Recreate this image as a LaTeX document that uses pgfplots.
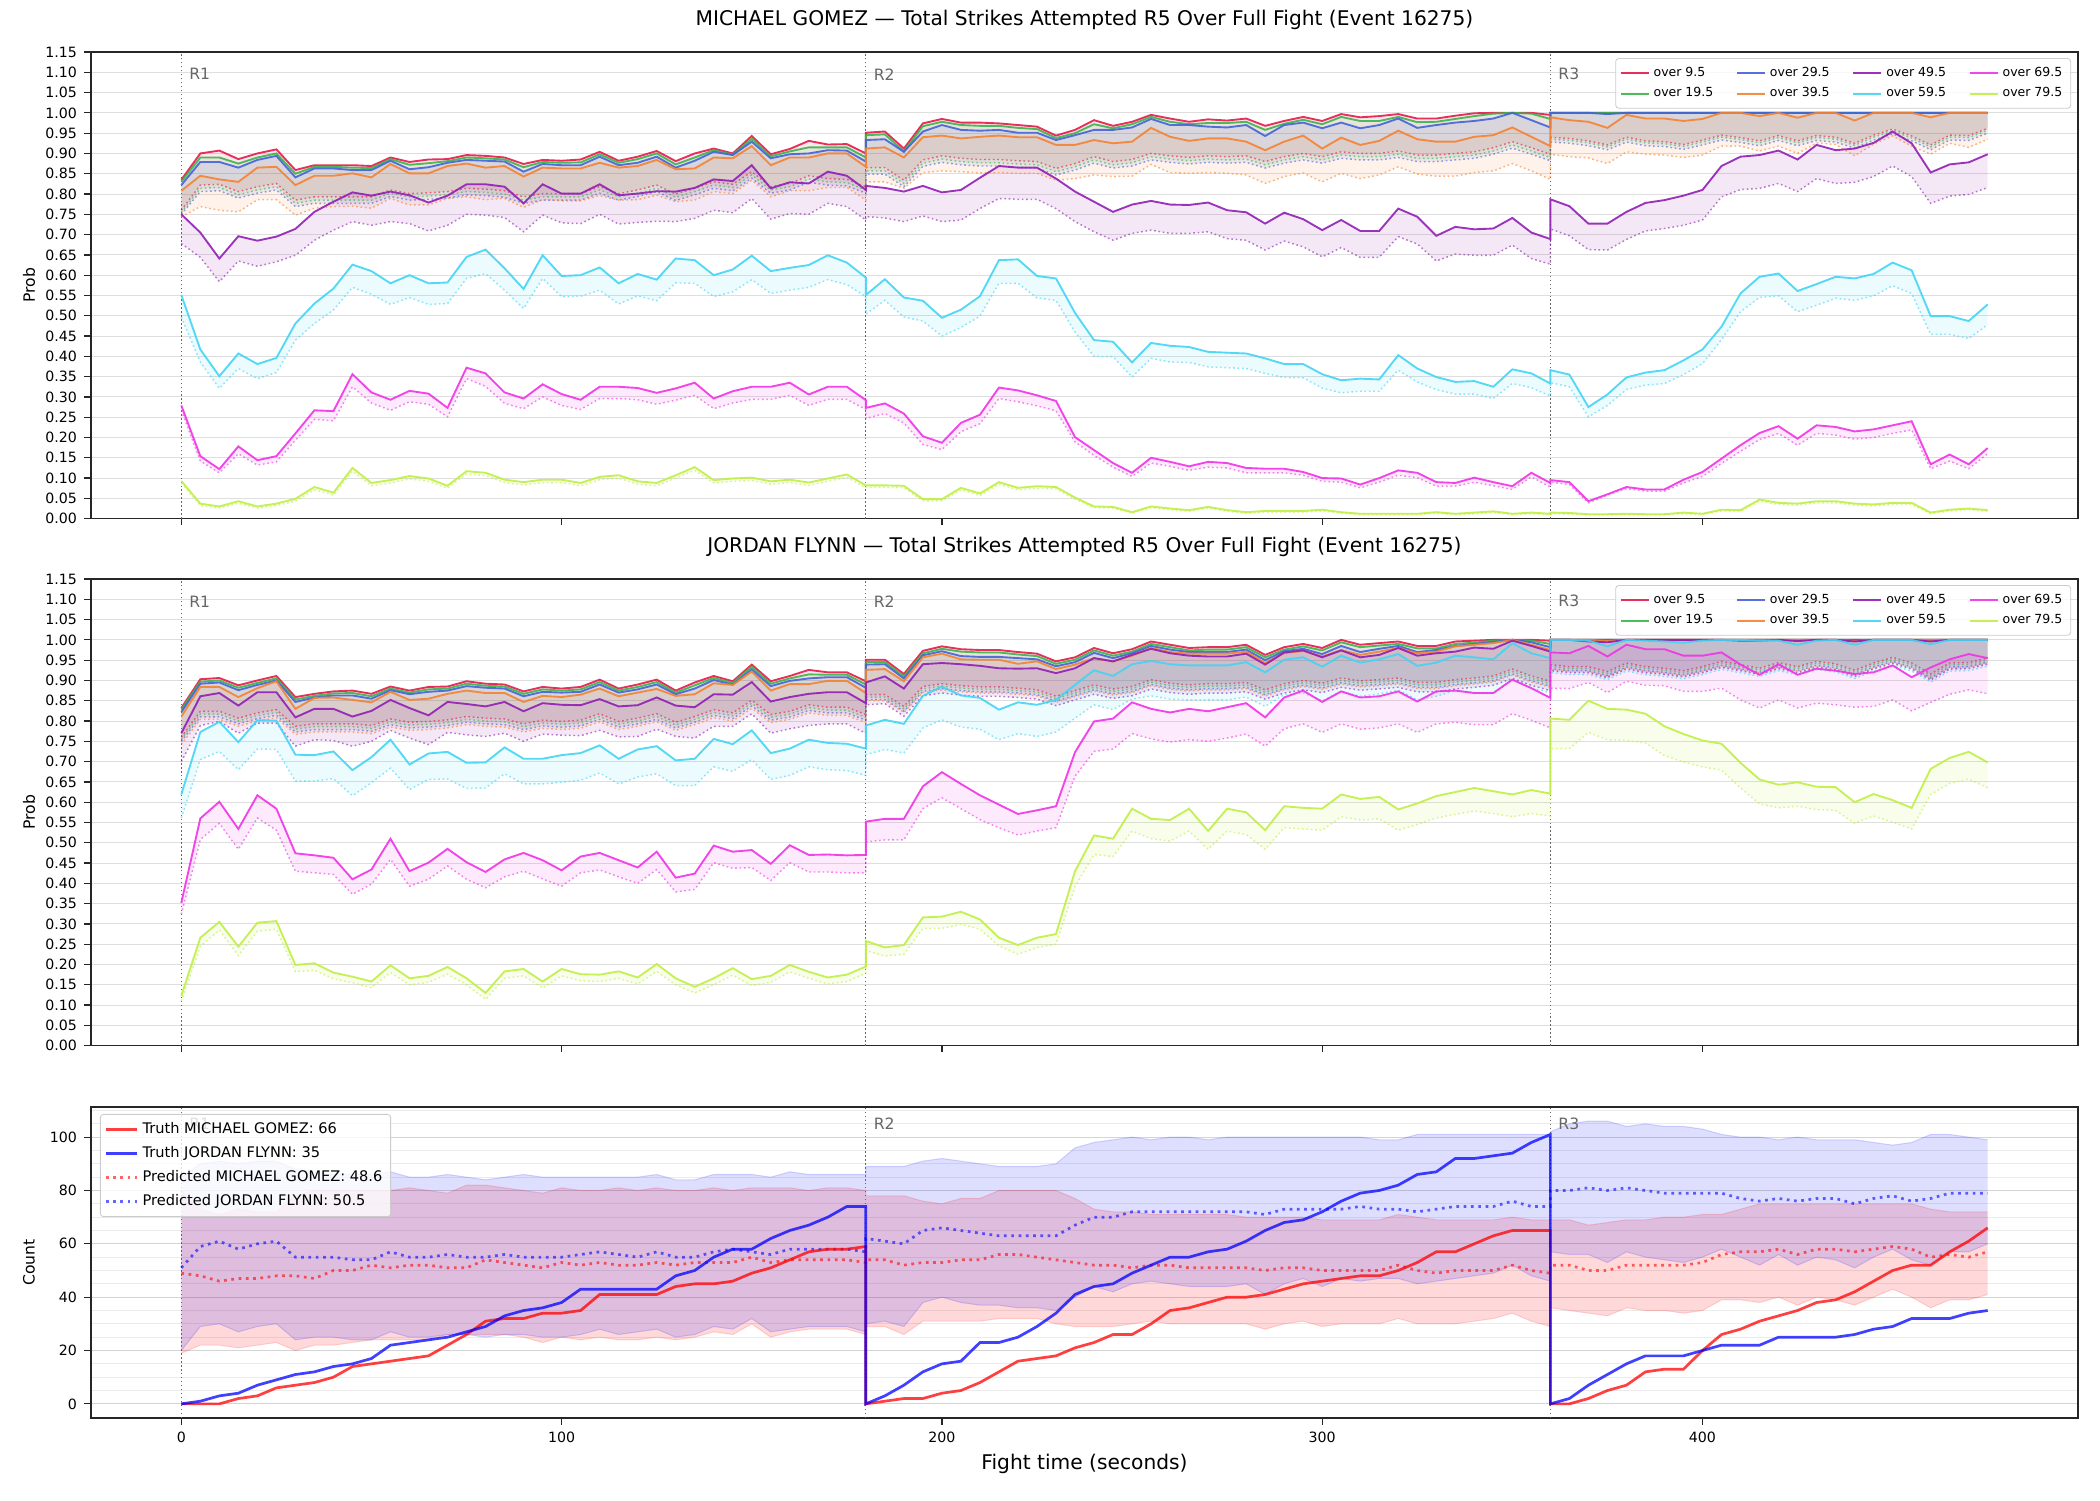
\documentclass[border=0pt]{standalone}
\usepackage{pgfplots}
\usepackage{pgfplotstable}
\usepackage{fontspec}
\setmainfont{DejaVu Sans}
\pgfplotsset{compat=1.18}
\usepgfplotslibrary{fillbetween}

\definecolor{c1}{HTML}{E6194B}
\definecolor{c2}{HTML}{3CB44B}
\definecolor{c3}{HTML}{4363D8}
\definecolor{c4}{HTML}{F58231}
\definecolor{c5}{HTML}{911EB4}
\definecolor{c6}{HTML}{42D4F4}
\definecolor{c7}{HTML}{F032E6}
\definecolor{c8}{HTML}{BFEF45}

% Michael Gomez: P(over line), r = estimate, l = lower band
\pgfplotstableread{
t r1 r2 r3 r4 r5 r6 r7 r8 l1 l2 l3 l4 l5 l6 l7 l8
0 0.835 0.830 0.822 0.808 0.750 0.551 0.279 0.093 0.760 0.755 0.750 0.744 0.678 0.497 0.267 0.088
5 0.900 0.890 0.879 0.845 0.705 0.417 0.154 0.037 0.822 0.814 0.806 0.769 0.644 0.386 0.142 0.032
10 0.907 0.890 0.879 0.836 0.641 0.351 0.122 0.030 0.824 0.816 0.808 0.760 0.584 0.321 0.113 0.026
15 0.886 0.875 0.865 0.830 0.696 0.407 0.178 0.043 0.806 0.798 0.790 0.756 0.635 0.370 0.160 0.038
20 0.900 0.890 0.884 0.865 0.685 0.381 0.144 0.030 0.818 0.810 0.802 0.786 0.622 0.345 0.132 0.026
25 0.910 0.900 0.894 0.867 0.695 0.396 0.154 0.037 0.826 0.818 0.810 0.786 0.633 0.360 0.140 0.032
30 0.859 0.850 0.841 0.822 0.714 0.481 0.210 0.049 0.785 0.777 0.769 0.748 0.649 0.440 0.193 0.043
35 0.871 0.867 0.863 0.845 0.756 0.530 0.267 0.078 0.793 0.785 0.777 0.765 0.686 0.481 0.245 0.071
40 0.871 0.867 0.863 0.845 0.781 0.567 0.265 0.064 0.793 0.785 0.777 0.769 0.711 0.514 0.241 0.058
45 0.871 0.865 0.859 0.851 0.804 0.626 0.356 0.125 0.793 0.785 0.777 0.770 0.732 0.570 0.325 0.117
50 0.869 0.864 0.859 0.841 0.796 0.610 0.311 0.088 0.793 0.785 0.777 0.765 0.723 0.553 0.285 0.081
55 0.890 0.886 0.882 0.874 0.806 0.580 0.293 0.095 0.810 0.802 0.794 0.789 0.732 0.528 0.267 0.088
60 0.879 0.872 0.861 0.851 0.797 0.600 0.315 0.105 0.801 0.793 0.785 0.773 0.727 0.545 0.288 0.098
65 0.885 0.876 0.866 0.851 0.779 0.580 0.308 0.099 0.803 0.795 0.787 0.773 0.709 0.528 0.282 0.092
70 0.886 0.881 0.877 0.869 0.796 0.582 0.273 0.081 0.806 0.798 0.790 0.789 0.723 0.530 0.251 0.075
75 0.896 0.890 0.884 0.875 0.824 0.645 0.372 0.117 0.814 0.806 0.798 0.793 0.750 0.592 0.345 0.110
80 0.894 0.888 0.882 0.865 0.824 0.663 0.358 0.113 0.812 0.804 0.796 0.786 0.748 0.604 0.326 0.106
85 0.890 0.885 0.880 0.869 0.818 0.617 0.311 0.096 0.808 0.800 0.792 0.789 0.742 0.563 0.284 0.089
90 0.874 0.866 0.855 0.843 0.777 0.566 0.296 0.090 0.793 0.785 0.777 0.767 0.707 0.518 0.271 0.083
95 0.884 0.879 0.874 0.865 0.824 0.649 0.331 0.096 0.801 0.793 0.785 0.786 0.748 0.592 0.300 0.089
100 0.882 0.877 0.871 0.863 0.801 0.598 0.307 0.096 0.801 0.793 0.785 0.783 0.729 0.547 0.279 0.089
105 0.885 0.878 0.871 0.863 0.801 0.600 0.293 0.088 0.801 0.793 0.785 0.783 0.727 0.548 0.269 0.081
110 0.904 0.898 0.892 0.877 0.824 0.619 0.325 0.103 0.818 0.810 0.802 0.796 0.750 0.563 0.296 0.096
115 0.882 0.877 0.871 0.865 0.797 0.580 0.325 0.107 0.801 0.793 0.785 0.785 0.726 0.529 0.296 0.100
120 0.892 0.886 0.877 0.869 0.801 0.603 0.322 0.092 0.810 0.802 0.794 0.786 0.730 0.549 0.293 0.085
125 0.906 0.900 0.892 0.884 0.807 0.589 0.310 0.088 0.822 0.814 0.806 0.797 0.733 0.537 0.282 0.081
130 0.881 0.873 0.865 0.861 0.806 0.641 0.321 0.107 0.800 0.792 0.784 0.781 0.732 0.581 0.292 0.100
135 0.900 0.890 0.882 0.863 0.815 0.637 0.335 0.127 0.814 0.806 0.798 0.785 0.740 0.580 0.304 0.119
140 0.912 0.908 0.904 0.890 0.836 0.600 0.296 0.095 0.830 0.822 0.814 0.806 0.760 0.547 0.271 0.088
145 0.900 0.897 0.896 0.888 0.832 0.614 0.314 0.099 0.824 0.816 0.808 0.801 0.754 0.559 0.285 0.092
150 0.943 0.936 0.929 0.918 0.871 0.648 0.325 0.101 0.855 0.847 0.839 0.834 0.789 0.589 0.294 0.094
155 0.898 0.893 0.888 0.871 0.814 0.610 0.325 0.092 0.818 0.810 0.802 0.793 0.738 0.555 0.294 0.085
160 0.911 0.905 0.898 0.890 0.829 0.618 0.335 0.096 0.826 0.818 0.810 0.808 0.752 0.563 0.304 0.089
165 0.931 0.915 0.900 0.890 0.826 0.625 0.306 0.089 0.845 0.837 0.829 0.808 0.750 0.570 0.279 0.082
170 0.922 0.915 0.908 0.900 0.855 0.649 0.325 0.099 0.838 0.830 0.822 0.816 0.777 0.589 0.294 0.092
175 0.923 0.915 0.907 0.900 0.845 0.631 0.325 0.109 0.836 0.828 0.820 0.816 0.769 0.577 0.294 0.102
180 0.900 0.890 0.880 0.867 0.810 0.594 0.292 0.082 0.818 0.810 0.802 0.785 0.736 0.547 0.269 0.076
180 0.951 0.945 0.933 0.912 0.820 0.551 0.273 0.082 0.865 0.857 0.849 0.830 0.744 0.504 0.247 0.077
185 0.954 0.947 0.935 0.915 0.815 0.590 0.284 0.082 0.865 0.857 0.849 0.830 0.741 0.538 0.259 0.077
190 0.912 0.905 0.904 0.890 0.806 0.545 0.259 0.081 0.834 0.826 0.818 0.814 0.732 0.497 0.236 0.076
195 0.974 0.967 0.954 0.940 0.820 0.537 0.203 0.048 0.884 0.876 0.868 0.853 0.746 0.487 0.183 0.044
200 0.985 0.978 0.970 0.944 0.804 0.495 0.187 0.048 0.894 0.886 0.878 0.857 0.732 0.450 0.170 0.044
205 0.976 0.970 0.958 0.937 0.810 0.515 0.236 0.076 0.888 0.880 0.872 0.855 0.736 0.471 0.214 0.071
210 0.976 0.968 0.956 0.941 0.840 0.548 0.256 0.062 0.885 0.877 0.869 0.852 0.764 0.499 0.234 0.057
215 0.974 0.968 0.958 0.944 0.869 0.637 0.323 0.090 0.885 0.877 0.869 0.853 0.789 0.580 0.296 0.085
220 0.970 0.963 0.951 0.940 0.865 0.639 0.316 0.076 0.882 0.874 0.866 0.851 0.787 0.580 0.288 0.071
225 0.966 0.960 0.951 0.940 0.865 0.598 0.304 0.080 0.880 0.872 0.864 0.851 0.787 0.544 0.278 0.075
230 0.944 0.938 0.933 0.921 0.838 0.592 0.290 0.078 0.863 0.855 0.847 0.834 0.764 0.538 0.266 0.073
235 0.958 0.950 0.945 0.921 0.806 0.507 0.201 0.052 0.875 0.867 0.859 0.838 0.732 0.460 0.189 0.048
240 0.982 0.972 0.958 0.933 0.781 0.440 0.169 0.030 0.892 0.884 0.876 0.847 0.707 0.400 0.156 0.027
245 0.968 0.962 0.958 0.925 0.756 0.436 0.137 0.029 0.880 0.872 0.864 0.843 0.686 0.399 0.127 0.026
250 0.978 0.972 0.964 0.929 0.774 0.385 0.113 0.016 0.885 0.877 0.869 0.844 0.703 0.349 0.104 0.013
255 0.995 0.990 0.985 0.963 0.783 0.433 0.150 0.030 0.900 0.892 0.884 0.873 0.711 0.395 0.137 0.027
260 0.986 0.978 0.970 0.941 0.774 0.426 0.140 0.025 0.894 0.886 0.878 0.853 0.703 0.386 0.129 0.022
265 0.978 0.972 0.970 0.931 0.773 0.423 0.129 0.021 0.890 0.882 0.874 0.851 0.703 0.385 0.119 0.018
270 0.984 0.975 0.966 0.937 0.779 0.411 0.140 0.029 0.894 0.886 0.878 0.853 0.707 0.374 0.127 0.026
275 0.981 0.975 0.964 0.937 0.760 0.409 0.137 0.021 0.892 0.884 0.876 0.851 0.690 0.372 0.125 0.018
280 0.986 0.978 0.970 0.929 0.755 0.407 0.125 0.016 0.894 0.886 0.878 0.847 0.686 0.370 0.113 0.013
285 0.968 0.958 0.943 0.908 0.727 0.395 0.123 0.019 0.880 0.872 0.864 0.826 0.662 0.358 0.113 0.016
290 0.980 0.973 0.970 0.929 0.754 0.381 0.123 0.019 0.892 0.884 0.876 0.843 0.684 0.348 0.113 0.016
295 0.990 0.983 0.976 0.944 0.738 0.381 0.115 0.019 0.900 0.892 0.884 0.852 0.670 0.347 0.107 0.016
300 0.980 0.972 0.962 0.912 0.711 0.356 0.100 0.022 0.892 0.884 0.876 0.830 0.645 0.322 0.092 0.019
305 0.997 0.990 0.976 0.939 0.736 0.341 0.099 0.016 0.904 0.896 0.888 0.851 0.668 0.310 0.090 0.013
310 0.989 0.980 0.962 0.921 0.709 0.345 0.084 0.012 0.900 0.892 0.884 0.838 0.644 0.314 0.076 0.010
315 0.992 0.980 0.970 0.931 0.709 0.343 0.100 0.012 0.900 0.892 0.884 0.847 0.644 0.314 0.090 0.010
320 0.997 0.990 0.986 0.956 0.764 0.403 0.119 0.012 0.906 0.898 0.890 0.867 0.695 0.366 0.107 0.010
325 0.986 0.977 0.963 0.935 0.744 0.370 0.113 0.012 0.896 0.888 0.880 0.849 0.677 0.337 0.101 0.010
330 0.986 0.978 0.970 0.929 0.697 0.349 0.090 0.016 0.896 0.888 0.880 0.844 0.635 0.318 0.080 0.013
335 0.993 0.985 0.976 0.929 0.719 0.337 0.088 0.012 0.900 0.892 0.884 0.844 0.652 0.307 0.080 0.010
340 0.999 0.992 0.980 0.941 0.713 0.339 0.101 0.015 0.904 0.896 0.888 0.853 0.649 0.307 0.090 0.012
345 1.000 0.998 0.986 0.945 0.715 0.325 0.090 0.018 0.914 0.906 0.898 0.857 0.649 0.296 0.081 0.015
350 1.000 1.000 1.000 0.964 0.741 0.368 0.080 0.012 0.929 0.921 0.913 0.875 0.674 0.333 0.072 0.010
355 1.000 0.998 0.982 0.941 0.705 0.358 0.113 0.015 0.914 0.906 0.898 0.857 0.641 0.323 0.103 0.012
360 0.995 0.985 0.964 0.918 0.689 0.333 0.088 0.012 0.898 0.890 0.882 0.836 0.627 0.302 0.078 0.010
360 1.000 1.000 1.000 0.989 0.787 0.366 0.095 0.015 0.940 0.935 0.928 0.898 0.714 0.335 0.090 0.012
365 1.000 1.000 1.000 0.982 0.770 0.355 0.090 0.014 0.937 0.932 0.925 0.892 0.697 0.325 0.084 0.011
370 1.000 1.000 1.000 0.978 0.727 0.275 0.043 0.011 0.931 0.926 0.919 0.889 0.663 0.251 0.039 0.009
375 1.000 1.000 0.997 0.963 0.727 0.306 0.060 0.011 0.921 0.916 0.909 0.875 0.662 0.279 0.058 0.009
380 1.000 1.000 1.000 0.995 0.756 0.348 0.078 0.012 0.940 0.935 0.928 0.904 0.688 0.318 0.074 0.010
385 1.000 1.000 1.000 0.986 0.778 0.360 0.072 0.011 0.931 0.926 0.919 0.898 0.709 0.329 0.068 0.009
390 1.000 1.000 1.000 0.986 0.785 0.366 0.072 0.011 0.929 0.924 0.917 0.896 0.715 0.333 0.068 0.009
395 1.000 1.000 1.000 0.980 0.796 0.390 0.096 0.015 0.922 0.917 0.910 0.890 0.723 0.355 0.088 0.012
400 1.000 1.000 1.000 0.985 0.810 0.417 0.115 0.012 0.933 0.928 0.921 0.896 0.736 0.382 0.104 0.010
405 1.000 1.000 1.000 1.000 0.869 0.473 0.148 0.022 0.945 0.940 0.933 0.918 0.793 0.441 0.136 0.019
410 1.000 1.000 1.000 1.000 0.892 0.555 0.181 0.021 0.939 0.934 0.927 0.918 0.811 0.510 0.166 0.018
415 1.000 1.000 1.000 0.992 0.896 0.596 0.211 0.047 0.931 0.926 0.919 0.906 0.814 0.545 0.195 0.043
420 1.000 1.000 1.000 1.000 0.907 0.604 0.228 0.039 0.944 0.939 0.932 0.918 0.826 0.549 0.210 0.035
425 1.000 1.000 1.000 0.988 0.885 0.561 0.197 0.037 0.931 0.926 0.919 0.900 0.806 0.510 0.181 0.033
430 1.000 1.000 1.000 1.000 0.921 0.578 0.230 0.043 0.944 0.939 0.932 0.926 0.838 0.526 0.210 0.039
435 1.000 1.000 1.000 1.000 0.908 0.596 0.226 0.043 0.940 0.935 0.928 0.922 0.826 0.543 0.206 0.039
440 1.000 1.000 1.000 0.981 0.912 0.592 0.215 0.037 0.925 0.920 0.913 0.894 0.829 0.538 0.196 0.033
445 1.000 1.000 1.000 1.000 0.926 0.603 0.220 0.035 0.945 0.940 0.933 0.923 0.843 0.549 0.200 0.031
450 1.000 1.000 1.000 1.000 0.954 0.631 0.230 0.039 0.960 0.955 0.948 0.943 0.869 0.574 0.210 0.035
455 1.000 1.000 1.000 1.000 0.925 0.612 0.240 0.039 0.943 0.938 0.931 0.918 0.843 0.555 0.219 0.035
460 1.000 1.000 1.000 0.989 0.853 0.499 0.134 0.015 0.921 0.916 0.909 0.898 0.777 0.454 0.123 0.012
465 1.000 1.000 1.000 1.000 0.873 0.499 0.158 0.022 0.945 0.940 0.933 0.925 0.795 0.454 0.142 0.019
470 1.000 1.000 1.000 1.000 0.878 0.487 0.134 0.025 0.944 0.939 0.932 0.915 0.799 0.444 0.123 0.022
475 1.000 1.000 1.000 1.000 0.898 0.528 0.174 0.021 0.962 0.957 0.950 0.935 0.816 0.478 0.160 0.018
}\gomez

% Jordan Flynn: same layout
\pgfplotstableread{
t r1 r2 r3 r4 r5 r6 r7 r8 l1 l2 l3 l4 l5 l6 l7 l8
0 0.832 0.828 0.822 0.811 0.770 0.619 0.352 0.123 0.760 0.755 0.750 0.742 0.700 0.561 0.324 0.110
5 0.903 0.897 0.892 0.884 0.861 0.773 0.560 0.266 0.824 0.817 0.810 0.804 0.789 0.705 0.508 0.245
10 0.906 0.900 0.895 0.884 0.869 0.798 0.601 0.305 0.824 0.817 0.810 0.804 0.799 0.725 0.548 0.285
15 0.888 0.882 0.876 0.859 0.838 0.748 0.534 0.244 0.807 0.800 0.793 0.787 0.770 0.680 0.484 0.222
20 0.900 0.894 0.889 0.881 0.871 0.802 0.617 0.303 0.820 0.813 0.806 0.800 0.795 0.731 0.561 0.282
25 0.911 0.905 0.900 0.898 0.871 0.801 0.584 0.307 0.828 0.821 0.814 0.808 0.795 0.730 0.531 0.287
30 0.859 0.853 0.847 0.830 0.809 0.717 0.474 0.199 0.787 0.780 0.773 0.767 0.738 0.652 0.430 0.182
35 0.867 0.862 0.858 0.857 0.830 0.716 0.469 0.203 0.793 0.786 0.779 0.773 0.754 0.652 0.426 0.186
40 0.873 0.868 0.863 0.858 0.830 0.725 0.463 0.180 0.793 0.786 0.779 0.773 0.752 0.658 0.422 0.165
45 0.875 0.869 0.863 0.852 0.811 0.679 0.410 0.170 0.793 0.786 0.779 0.773 0.738 0.616 0.373 0.155
50 0.867 0.861 0.855 0.846 0.825 0.711 0.434 0.158 0.789 0.782 0.775 0.769 0.750 0.648 0.398 0.143
55 0.885 0.880 0.876 0.872 0.852 0.754 0.510 0.198 0.805 0.798 0.791 0.785 0.777 0.684 0.459 0.180
60 0.875 0.870 0.866 0.852 0.832 0.693 0.430 0.166 0.797 0.790 0.783 0.777 0.758 0.631 0.393 0.150
65 0.884 0.878 0.872 0.855 0.814 0.720 0.451 0.172 0.799 0.792 0.785 0.779 0.742 0.656 0.410 0.156
70 0.885 0.880 0.875 0.867 0.847 0.724 0.485 0.194 0.803 0.796 0.789 0.783 0.772 0.657 0.443 0.176
75 0.898 0.892 0.886 0.875 0.842 0.697 0.452 0.166 0.811 0.804 0.797 0.791 0.766 0.634 0.410 0.150
80 0.892 0.887 0.882 0.869 0.836 0.698 0.428 0.130 0.807 0.800 0.793 0.787 0.762 0.635 0.389 0.114
85 0.890 0.885 0.880 0.869 0.847 0.735 0.459 0.183 0.805 0.798 0.791 0.785 0.770 0.670 0.416 0.166
90 0.873 0.867 0.861 0.847 0.824 0.707 0.475 0.189 0.793 0.786 0.779 0.773 0.750 0.645 0.430 0.172
95 0.884 0.878 0.872 0.862 0.844 0.707 0.457 0.158 0.802 0.795 0.788 0.782 0.768 0.645 0.411 0.142
100 0.880 0.875 0.870 0.859 0.840 0.716 0.432 0.189 0.799 0.792 0.785 0.779 0.765 0.649 0.393 0.172
105 0.884 0.878 0.872 0.865 0.839 0.721 0.466 0.176 0.802 0.795 0.788 0.782 0.764 0.654 0.426 0.160
110 0.902 0.896 0.890 0.880 0.854 0.740 0.475 0.175 0.818 0.811 0.804 0.798 0.777 0.672 0.433 0.158
115 0.880 0.875 0.870 0.861 0.836 0.707 0.457 0.183 0.799 0.792 0.785 0.779 0.761 0.645 0.416 0.166
120 0.890 0.884 0.878 0.870 0.839 0.730 0.439 0.168 0.807 0.800 0.793 0.787 0.762 0.662 0.400 0.152
125 0.902 0.896 0.890 0.879 0.858 0.738 0.478 0.201 0.818 0.811 0.804 0.798 0.780 0.670 0.434 0.183
130 0.875 0.870 0.866 0.862 0.838 0.703 0.414 0.166 0.797 0.790 0.783 0.777 0.762 0.641 0.379 0.150
135 0.895 0.888 0.880 0.866 0.834 0.707 0.424 0.145 0.811 0.804 0.797 0.791 0.758 0.641 0.385 0.130
140 0.911 0.906 0.901 0.893 0.866 0.756 0.493 0.166 0.828 0.821 0.814 0.808 0.787 0.687 0.451 0.150
145 0.898 0.894 0.890 0.889 0.865 0.743 0.478 0.191 0.820 0.813 0.806 0.800 0.787 0.676 0.437 0.174
150 0.939 0.933 0.927 0.922 0.896 0.777 0.482 0.164 0.851 0.844 0.837 0.831 0.818 0.705 0.439 0.148
155 0.898 0.892 0.886 0.875 0.848 0.721 0.448 0.172 0.816 0.809 0.802 0.796 0.770 0.656 0.407 0.156
160 0.911 0.905 0.899 0.891 0.859 0.732 0.494 0.199 0.824 0.817 0.810 0.804 0.781 0.666 0.451 0.182
165 0.926 0.915 0.905 0.891 0.867 0.754 0.470 0.182 0.840 0.833 0.826 0.820 0.789 0.687 0.428 0.166
170 0.920 0.914 0.908 0.899 0.871 0.746 0.471 0.168 0.834 0.827 0.820 0.814 0.793 0.680 0.428 0.152
175 0.920 0.914 0.908 0.899 0.871 0.744 0.469 0.175 0.834 0.827 0.820 0.814 0.793 0.678 0.426 0.158
180 0.898 0.890 0.882 0.869 0.844 0.732 0.470 0.195 0.816 0.809 0.802 0.796 0.770 0.666 0.426 0.178
180 0.951 0.945 0.939 0.926 0.895 0.789 0.552 0.258 0.865 0.859 0.853 0.850 0.840 0.717 0.502 0.234
185 0.951 0.945 0.940 0.928 0.910 0.803 0.559 0.242 0.865 0.859 0.853 0.850 0.843 0.730 0.507 0.221
190 0.916 0.910 0.905 0.898 0.880 0.793 0.559 0.248 0.836 0.830 0.824 0.821 0.812 0.721 0.507 0.225
195 0.973 0.967 0.962 0.957 0.940 0.862 0.639 0.316 0.885 0.879 0.873 0.870 0.862 0.783 0.584 0.289
200 0.984 0.978 0.972 0.966 0.943 0.885 0.674 0.318 0.892 0.886 0.880 0.877 0.869 0.803 0.611 0.289
205 0.977 0.971 0.960 0.952 0.940 0.863 0.645 0.330 0.887 0.881 0.875 0.872 0.864 0.785 0.584 0.299
210 0.975 0.969 0.958 0.951 0.936 0.857 0.617 0.311 0.884 0.878 0.872 0.869 0.861 0.780 0.557 0.287
215 0.975 0.969 0.958 0.951 0.930 0.828 0.594 0.266 0.884 0.878 0.872 0.869 0.861 0.754 0.537 0.246
220 0.970 0.964 0.955 0.941 0.929 0.846 0.571 0.248 0.881 0.875 0.869 0.866 0.858 0.769 0.519 0.225
225 0.966 0.960 0.952 0.947 0.930 0.840 0.580 0.266 0.877 0.871 0.865 0.862 0.854 0.762 0.529 0.242
230 0.947 0.941 0.935 0.928 0.918 0.852 0.590 0.275 0.861 0.855 0.849 0.846 0.838 0.773 0.537 0.250
235 0.957 0.951 0.945 0.939 0.930 0.889 0.723 0.430 0.875 0.869 0.863 0.860 0.852 0.807 0.664 0.392
240 0.980 0.974 0.968 0.955 0.955 0.925 0.799 0.518 0.889 0.883 0.877 0.874 0.866 0.840 0.725 0.471
245 0.967 0.961 0.955 0.947 0.947 0.911 0.806 0.510 0.879 0.873 0.867 0.864 0.856 0.828 0.731 0.466
250 0.977 0.971 0.967 0.961 0.963 0.940 0.846 0.584 0.885 0.879 0.873 0.870 0.862 0.854 0.769 0.529
255 0.996 0.990 0.985 0.980 0.978 0.948 0.830 0.559 0.902 0.896 0.890 0.887 0.879 0.862 0.756 0.510
260 0.988 0.982 0.976 0.970 0.967 0.940 0.821 0.556 0.893 0.887 0.881 0.878 0.870 0.854 0.748 0.504
265 0.980 0.974 0.970 0.966 0.961 0.937 0.830 0.584 0.889 0.883 0.877 0.874 0.866 0.852 0.754 0.529
270 0.982 0.976 0.970 0.966 0.959 0.937 0.824 0.529 0.892 0.886 0.880 0.877 0.869 0.852 0.750 0.484
275 0.982 0.976 0.970 0.966 0.959 0.937 0.834 0.584 0.892 0.886 0.880 0.877 0.869 0.852 0.758 0.529
280 0.988 0.982 0.976 0.971 0.966 0.945 0.844 0.575 0.895 0.889 0.883 0.880 0.872 0.859 0.768 0.520
285 0.963 0.957 0.950 0.943 0.939 0.920 0.809 0.531 0.877 0.871 0.865 0.862 0.854 0.836 0.738 0.484
290 0.982 0.976 0.972 0.967 0.969 0.951 0.858 0.590 0.892 0.886 0.880 0.877 0.869 0.865 0.781 0.537
295 0.990 0.984 0.978 0.973 0.974 0.957 0.875 0.586 0.900 0.894 0.888 0.885 0.877 0.869 0.793 0.534
300 0.980 0.974 0.965 0.959 0.957 0.934 0.847 0.584 0.893 0.887 0.881 0.878 0.870 0.850 0.772 0.531
305 1.000 0.994 0.985 0.975 0.974 0.961 0.873 0.619 0.906 0.900 0.894 0.891 0.883 0.873 0.793 0.564
310 0.988 0.982 0.970 0.963 0.957 0.944 0.858 0.608 0.899 0.893 0.887 0.884 0.876 0.861 0.780 0.556
315 0.992 0.986 0.978 0.971 0.963 0.952 0.861 0.613 0.902 0.896 0.890 0.887 0.879 0.867 0.783 0.559
320 0.996 0.990 0.985 0.980 0.980 0.965 0.873 0.582 0.906 0.900 0.894 0.891 0.883 0.877 0.793 0.531
325 0.985 0.979 0.970 0.967 0.961 0.936 0.848 0.597 0.895 0.889 0.883 0.880 0.872 0.852 0.772 0.545
330 0.985 0.979 0.975 0.971 0.967 0.944 0.873 0.615 0.895 0.889 0.883 0.880 0.872 0.861 0.793 0.561
335 0.996 0.990 0.985 0.984 0.971 0.961 0.875 0.625 0.902 0.896 0.890 0.887 0.879 0.875 0.797 0.570
340 0.998 0.993 0.990 0.988 0.981 0.957 0.869 0.635 0.906 0.900 0.894 0.891 0.883 0.870 0.791 0.578
345 1.000 0.998 0.995 0.992 0.978 0.952 0.869 0.627 0.911 0.905 0.899 0.896 0.888 0.867 0.791 0.572
350 1.000 1.000 1.000 1.000 0.998 0.992 0.902 0.619 0.928 0.922 0.916 0.913 0.905 0.902 0.818 0.564
355 1.000 0.998 0.994 0.988 0.985 0.967 0.881 0.630 0.911 0.905 0.899 0.896 0.888 0.881 0.802 0.572
360 0.998 0.990 0.982 0.975 0.971 0.955 0.857 0.621 0.898 0.892 0.886 0.883 0.875 0.870 0.783 0.566
360 1.000 1.000 1.000 1.000 1.000 1.000 0.969 0.806 0.939 0.934 0.929 0.927 0.924 0.919 0.881 0.732
365 1.000 1.000 1.000 1.000 1.000 1.000 0.967 0.803 0.934 0.929 0.924 0.922 0.919 0.914 0.880 0.732
370 1.000 1.000 1.000 1.000 0.996 0.998 0.985 0.850 0.934 0.929 0.924 0.922 0.919 0.914 0.895 0.772
375 1.000 1.000 1.000 0.997 0.994 0.984 0.959 0.830 0.922 0.917 0.912 0.910 0.907 0.902 0.870 0.754
380 1.000 1.000 1.000 1.000 1.000 1.000 0.988 0.828 0.943 0.938 0.933 0.931 0.928 0.923 0.898 0.752
385 1.000 1.000 1.000 1.000 1.000 0.998 0.977 0.818 0.934 0.929 0.924 0.922 0.919 0.914 0.888 0.746
390 1.000 1.000 1.000 1.000 1.000 0.996 0.977 0.787 0.930 0.925 0.920 0.918 0.915 0.910 0.887 0.715
395 1.000 1.000 1.000 1.000 1.000 0.993 0.961 0.768 0.924 0.919 0.914 0.912 0.909 0.904 0.873 0.699
400 1.000 1.000 1.000 1.000 1.000 0.998 0.961 0.752 0.934 0.929 0.924 0.922 0.919 0.914 0.873 0.687
405 1.000 1.000 1.000 1.000 1.000 1.000 0.969 0.744 0.947 0.942 0.937 0.935 0.932 0.927 0.881 0.679
410 1.000 1.000 1.000 1.000 0.998 1.000 0.939 0.697 0.939 0.934 0.929 0.927 0.924 0.919 0.852 0.635
415 1.000 1.000 1.000 1.000 0.998 0.998 0.914 0.656 0.930 0.925 0.920 0.918 0.915 0.910 0.832 0.596
420 1.000 1.000 1.000 1.000 1.000 0.998 0.940 0.643 0.944 0.939 0.934 0.932 0.929 0.924 0.852 0.586
425 1.000 1.000 1.000 1.000 0.997 0.988 0.914 0.649 0.934 0.929 0.924 0.922 0.919 0.914 0.832 0.590
430 1.000 1.000 1.000 1.000 1.000 0.998 0.929 0.638 0.947 0.942 0.937 0.935 0.932 0.927 0.844 0.582
435 1.000 1.000 1.000 1.000 1.000 1.000 0.924 0.637 0.941 0.936 0.931 0.929 0.926 0.921 0.840 0.580
440 1.000 1.000 1.000 0.997 0.996 0.988 0.916 0.600 0.925 0.920 0.915 0.913 0.910 0.905 0.834 0.548
445 1.000 1.000 1.000 1.000 1.000 1.000 0.920 0.620 0.943 0.938 0.933 0.931 0.928 0.923 0.836 0.566
450 1.000 1.000 1.000 1.000 1.000 1.000 0.937 0.605 0.957 0.952 0.947 0.945 0.942 0.937 0.852 0.551
455 1.000 1.000 1.000 1.000 1.000 1.000 0.908 0.586 0.943 0.938 0.933 0.931 0.928 0.923 0.825 0.534
460 1.000 1.000 1.000 1.000 0.996 0.989 0.932 0.682 0.916 0.911 0.906 0.904 0.901 0.896 0.846 0.619
465 1.000 1.000 1.000 1.000 1.000 1.000 0.952 0.709 0.943 0.938 0.933 0.931 0.928 0.923 0.866 0.646
470 1.000 1.000 1.000 1.000 1.000 1.000 0.965 0.724 0.944 0.939 0.934 0.932 0.929 0.924 0.877 0.657
475 1.000 1.000 1.000 1.000 1.000 1.000 0.955 0.698 0.955 0.950 0.945 0.943 0.940 0.935 0.867 0.635
}\flynn

% cumulative counts: truth (tg, tf), predicted (pg, pf), bands (gl/gu, fl/fu)
\pgfplotstableread{
t tg tf pg pf gl gu fl fu
0 0 0 49 51 19 80 20 85
5 0 1 48 59 22 73 29 90
10 0 3 46 61 22 71 30 91
15 2 4 47 58 21 73 27 90
20 3 7 47 60 22 72 29 91
25 6 9 48 61 23 72 30 91
30 7 11 48 55 20 78 24 88
35 8 12 47 55 22 80 25 87
40 10 14 50 55 22 80 25 86
45 14 15 50 54 23 80 24 86
50 15 17 52 54 24 80 24 86
55 16 22 51 57 24 80 27 87
60 17 23 52 55 24 81 25 85
65 18 24 52 55 24 80 25 85
70 22 25 51 56 26 79 26 86
75 26 27 51 55 26 82 26 85
80 31 29 54 55 26 82 25 84
85 32 33 53 56 26 81 26 85
90 32 35 52 55 25 80 26 86
95 34 36 51 55 23 79 25 85
100 34 38 53 55 25 81 25 85
105 35 43 52 56 24 80 26 85
110 41 43 53 57 25 80 28 85
115 41 43 52 56 24 81 26 85
120 41 43 52 55 24 80 27 85
125 41 43 53 57 25 81 28 86
130 44 48 52 55 24 80 25 84
135 45 50 53 55 25 80 26 84
140 45 55 53 57 27 81 29 86
145 46 58 53 58 26 80 28 86
150 49 58 55 57 30 81 32 86
155 51 62 53 56 25 81 27 85
160 54 65 54 58 27 81 28 87
165 57 67 54 58 28 80 29 86
170 58 70 54 58 28 81 29 86
175 58 74 54 58 28 81 29 86
180 59 74 53 57 26 80 27 86
180 0 0 54 62 29 78 30 89
185 1 3 54 61 29 78 31 89
190 2 7 52 60 26 78 29 89
195 2 12 53 65 31 76 38 91
200 4 15 53 66 31 75 40 92
205 5 16 54 65 31 77 38 91
210 8 23 54 64 31 77 37 90
215 12 23 56 63 32 80 37 89
220 16 25 56 63 32 80 36 89
225 17 29 55 63 32 80 36 89
230 18 34 54 63 30 80 35 90
235 21 41 53 67 29 77 40 96
240 23 44 52 70 29 73 44 98
245 26 45 52 70 29 72 42 99
250 26 49 51 72 30 72 45 100
255 30 52 52 72 31 71 46 99
260 35 55 52 72 30 71 45 100
265 36 55 51 72 30 71 44 100
270 38 57 51 72 30 71 44 99
275 40 58 51 72 30 71 44 100
280 40 61 51 72 30 70 45 100
285 41 65 50 71 28 70 41 100
290 43 68 51 73 30 70 45 100
295 45 69 51 73 31 70 47 100
300 46 72 50 73 29 69 44 100
305 47 76 50 73 30 69 47 100
310 48 79 50 74 30 69 46 100
315 48 80 50 73 30 69 47 99
320 50 82 52 73 32 71 47 99
325 53 86 50 72 30 70 45 101
330 57 87 49 73 30 69 46 101
335 57 92 50 74 30 69 47 101
340 60 92 50 74 31 69 48 101
345 63 93 50 74 32 69 49 101
350 65 94 52 76 34 70 52 101
355 65 98 50 74 31 69 48 101
360 65 101 49 74 29 69 46 101
360 0 0 52 80 36 69 57 102
365 0 2 52 80 35 69 56 105
370 2 7 50 81 34 67 56 106
375 5 11 50 80 33 68 53 106
380 7 15 52 81 36 69 57 104
385 12 18 52 80 35 69 55 105
390 13 18 52 79 35 70 54 104
395 13 18 52 79 34 70 53 104
400 20 20 53 79 35 71 55 103
405 26 22 56 79 39 71 58 101
410 28 22 57 77 39 73 55 100
415 31 22 57 76 38 75 52 100
420 33 25 58 77 40 75 56 99
425 35 25 56 76 37 75 52 100
430 38 25 58 77 40 75 55 99
435 39 25 58 77 39 75 54 99
440 42 26 57 75 37 75 51 99
445 46 28 58 77 40 75 55 98
450 50 29 59 78 43 75 58 97
455 52 32 58 76 40 75 54 98
460 52 32 55 77 36 73 52 101
465 57 32 56 79 39 72 57 101
470 61 34 55 79 39 72 57 100
475 66 35 57 79 41 72 60 99
}\counts

\tikzset{roundlab/.style={anchor=west, inner sep=0pt, text=black!60, font=\fontsize{7.5}{9}\selectfont}}

\pgfplotsset{
  base/.style={
    scale only axis, width=953.76pt,
    xmin=-23.75, xmax=498.75,
    axis line style={line width=0.8pt, black!85},
    tick align=outside, xtick pos=left, ytick pos=left,
    major tick length=3.2pt,
    tick style={line width=0.6pt, black!85},
    ymajorgrids, grid style={line width=0.45pt, black!13},
    ticklabel style={font=\fontsize{6.8}{8}\selectfont},
    xtick={0,100,200,300,400},
    ylabel style={font=\fontsize{7.5}{9}\selectfont, at={(axis description cs:-0.0312,0.5)}, anchor=center},
    title style={font=\fontsize{9.7}{11}\selectfont, at={(axis description cs:0.5,1)}, anchor=center, yshift=9.6pt},
  },
  probax/.style={
    base, height=224pt, ymin=0, ymax=1.15,
    ytick={0,0.05,0.1,0.15,0.2,0.25,0.3,0.35,0.4,0.45,0.5,0.55,0.6,0.65,0.7,0.75,0.8,0.85,0.9,0.95,1,1.05,1.1,1.15},
    yticklabels={0.00,0.05,0.10,0.15,0.20,0.25,0.30,0.35,0.40,0.45,0.50,0.55,0.60,0.65,0.70,0.75,0.80,0.85,0.90,0.95,1.00,1.05,1.10,1.15},
    xticklabels={}, ylabel={Prob},
    legend columns=4, legend cell align=left,
    legend image code/.code={\draw[##1] (0pt,0pt) -- (13.3pt,0pt);},
    legend style={at={(axis description cs:0.9965,0.987)}, anchor=north east,
      font=\fontsize{6}{7}\selectfont, draw=black!20, rounded corners=1.5pt,
      fill=white, fill opacity=0.8, text opacity=1, inner sep=2pt,
      /tikz/every even column/.append style={column sep=9pt}},
  },
  solidln/.style={#1, line width=0.9pt, opacity=0.9},
  lowln/.style={#1, line width=0.7pt, opacity=0.6, dash pattern=on 0.8pt off 1.3pt},
  roundln/.style={black!60, line width=0.5pt, dash pattern=on 0.7pt off 1.2pt},
}

% one probability band: #1 = series index, #2 = table
\newcommand{\band}[2]{%
  \addplot[solidln=c#1, name path=u#1, forget plot] table[x=t, y=r#1] {#2};
  \addplot[lowln=c#1, name path=d#1, forget plot] table[x=t, y=l#1] {#2};
  \addplot[c#1, fill opacity=0.1, draw=none, forget plot] fill between[of=u#1 and d#1];
}

\newcommand{\roundmarks}{%
  \addplot[roundln, forget plot] coordinates {(0,0) (0,1.15)};
  \addplot[roundln, forget plot] coordinates {(180,0) (180,1.15)};
  \addplot[roundln, forget plot] coordinates {(360,0) (360,1.15)};
  \node[roundlab] at (axis cs:2,1.095) {R1};
  \node[roundlab] at (axis cs:182,1.095) {R2};
  \node[roundlab] at (axis cs:362,1.095) {R3};
}

\newcommand{\overlegend}{%
  \addlegendimage{solidln=c1}\addlegendentry{over 9.5}
  \addlegendimage{solidln=c3}\addlegendentry{over 29.5}
  \addlegendimage{solidln=c5}\addlegendentry{over 49.5}
  \addlegendimage{solidln=c7}\addlegendentry{over 69.5}
  \addlegendimage{solidln=c2}\addlegendentry{over 19.5}
  \addlegendimage{solidln=c4}\addlegendentry{over 39.5}
  \addlegendimage{solidln=c6}\addlegendentry{over 59.5}
  \addlegendimage{solidln=c8}\addlegendentry{over 79.5}
}

\begin{document}
\begin{tikzpicture}

\begin{axis}[probax, at={(43.68pt,695.04pt)}, anchor=north west,
  title={MICHAEL GOMEZ — Total Strikes Attempted R5 Over Full Fight (Event 16275)}]
\roundmarks
\band{1}{\gomez}
\band{2}{\gomez}
\band{3}{\gomez}
\band{4}{\gomez}
\band{5}{\gomez}
\band{6}{\gomez}
\band{7}{\gomez}
\band{8}{\gomez}
\overlegend
\end{axis}

\begin{axis}[probax, at={(43.68pt,442.08pt)}, anchor=north west,
  title={JORDAN FLYNN — Total Strikes Attempted R5 Over Full Fight (Event 16275)}]
\roundmarks
\band{1}{\flynn}
\band{2}{\flynn}
\band{3}{\flynn}
\band{4}{\flynn}
\band{5}{\flynn}
\band{6}{\flynn}
\band{7}{\flynn}
\band{8}{\flynn}
\overlegend
\end{axis}

\begin{axis}[base, at={(43.68pt,188.64pt)}, anchor=north west, height=149.28pt,
  ymin=-5.3, ymax=111.3,
  ytick={0,20,40,60,80,100}, yticklabels={0,20,40,60,80,100},
  minor ytick={5,10,15,25,30,35,45,50,55,65,70,75,85,90,95,105,110},
  yminorgrids, minor grid style={line width=0.4pt, black!8}, minor tick length=0pt,
  grid style={line width=0.5pt, black!17},
  xticklabels={0,100,200,300,400},
  ylabel={Count}, xlabel={Fight time (seconds)},
  xlabel style={font=\fontsize{9.7}{11}\selectfont, at={(axis description cs:0.5,0)}, anchor=center, yshift=-22pt},
  legend cell align=left,
  legend image code/.code={\draw[#1] (0pt,0pt) -- (15pt,0pt);},
  legend style={at={(axis description cs:0.0045,0.9775)}, anchor=north west,
    font=\fontsize{7}{8.4}\selectfont, draw=black!20, rounded corners=1.5pt,
    fill=white, fill opacity=0.8, text opacity=1, inner sep=2pt, row sep=0.6pt},
]
\addplot[red, line width=0.5pt, opacity=0.15, name path=gl, forget plot] table[x=t, y=gl] {\counts};
\addplot[red, line width=0.5pt, opacity=0.15, name path=gu, forget plot] table[x=t, y=gu] {\counts};
\addplot[red, fill opacity=0.15, draw=none, forget plot] fill between[of=gl and gu];
\addplot[blue, line width=0.5pt, opacity=0.15, name path=fl, forget plot] table[x=t, y=fl] {\counts};
\addplot[blue, line width=0.5pt, opacity=0.15, name path=fu, forget plot] table[x=t, y=fu] {\counts};
\addplot[blue, fill opacity=0.13, draw=none, forget plot] fill between[of=fl and fu];
\addplot[roundln, forget plot] coordinates {(0,-5.3) (0,111.3)};
\addplot[roundln, forget plot] coordinates {(180,-5.3) (180,111.3)};
\addplot[roundln, forget plot] coordinates {(360,-5.3) (360,111.3)};
\node[roundlab] at (axis cs:2,105) {R1};
\node[roundlab] at (axis cs:182,105) {R2};
\node[roundlab] at (axis cs:362,105) {R3};
\addplot[red, opacity=0.6, line width=1.3pt, dash pattern=on 1.3pt off 2.2pt, forget plot] table[x=t, y=pg] {\counts};
\addplot[blue, opacity=0.6, line width=1.3pt, dash pattern=on 1.3pt off 2.2pt, forget plot] table[x=t, y=pf] {\counts};
\addplot[red, opacity=0.75, line width=1.3pt, forget plot] table[x=t, y=tg] {\counts};
\addplot[blue, opacity=0.75, line width=1.3pt, forget plot] table[x=t, y=tf] {\counts};
\addlegendimage{red, opacity=0.75, line width=1.3pt}\addlegendentry{Truth MICHAEL GOMEZ: 66}
\addlegendimage{blue, opacity=0.75, line width=1.3pt}\addlegendentry{Truth JORDAN FLYNN: 35}
\addlegendimage{red, opacity=0.6, line width=1.3pt, dash pattern=on 1.3pt off 2.2pt}\addlegendentry{Predicted MICHAEL GOMEZ: 48.6}
\addlegendimage{blue, opacity=0.6, line width=1.3pt, dash pattern=on 1.3pt off 2.2pt}\addlegendentry{Predicted JORDAN FLYNN: 50.5}
\end{axis}

\path (0,0) rectangle (1008pt,720pt);
\end{tikzpicture}
\end{document}
